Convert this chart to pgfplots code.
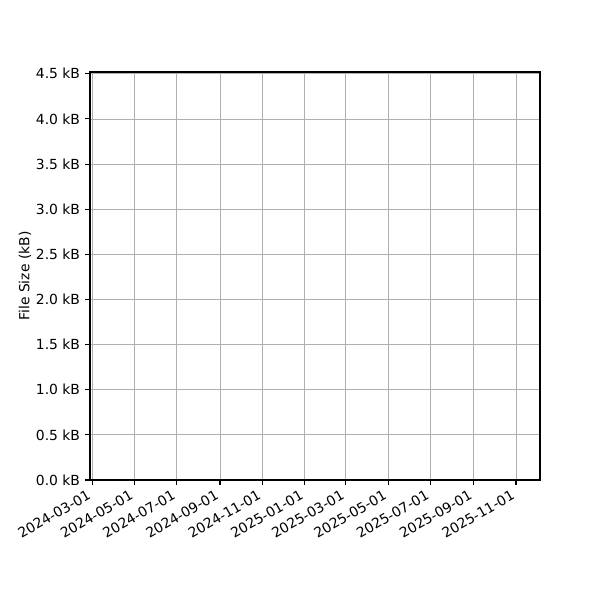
\documentclass[border=0pt]{standalone}
\usepackage{pgfplots}
\pgfplotsset{compat=1.18}
\usepackage{fontspec}
\setmainfont{DejaVu Sans}
\definecolor{gridgray}{HTML}{B0B0B0}

\begin{document}
\fontsize{10pt}{12pt}\selectfont
\begin{tikzpicture}
  \begin{axis}[
      scale only axis,
      width=324pt, height=293.76pt,
      xmin=-3, xmax=644.5,
      ymin=0, ymax=4.52,
      axis line style={line width=0.8pt},
      tick style={line width=0.8pt, black},
      tick align=outside,
      major tick length=3.5pt,
      xtick pos=bottom, ytick pos=left,
      grid=major,
      major grid style={line width=0.58pt, draw=gridgray},
      xtick={0,61,122,184,245,306,365,426,487,549,610},
      xticklabels={2024-03-01,2024-05-01,2024-07-01,2024-09-01,2024-11-01,2025-01-01,2025-03-01,2025-05-01,2025-07-01,2025-09-01,2025-11-01},
      ytick={0,0.5,...,4.5},
      yticklabels={0.0 kB,0.5 kB,1.0 kB,1.5 kB,2.0 kB,2.5 kB,3.0 kB,3.5 kB,4.0 kB,4.5 kB},
      xticklabel style={xshift=-4pt, yshift=-3pt, rotate=30, anchor=north east, inner sep=0pt},
      yticklabel style={anchor=east, inner sep=0pt, xshift=-3.5pt},
      ticklabel style={font=\fontsize{10pt}{12pt}\selectfont},
      ylabel={File Size (kB)},
      every axis y label/.style={at={(axis description cs:0,0.5)}, xshift=-46.8pt, rotate=90, anchor=center, font=\fontsize{10pt}{12pt}\selectfont},
    ]
  \end{axis}
  \path[use as bounding box] (-64.8pt,-86.4pt) rectangle (367.2pt,345.6pt);
\end{tikzpicture}
\end{document}
